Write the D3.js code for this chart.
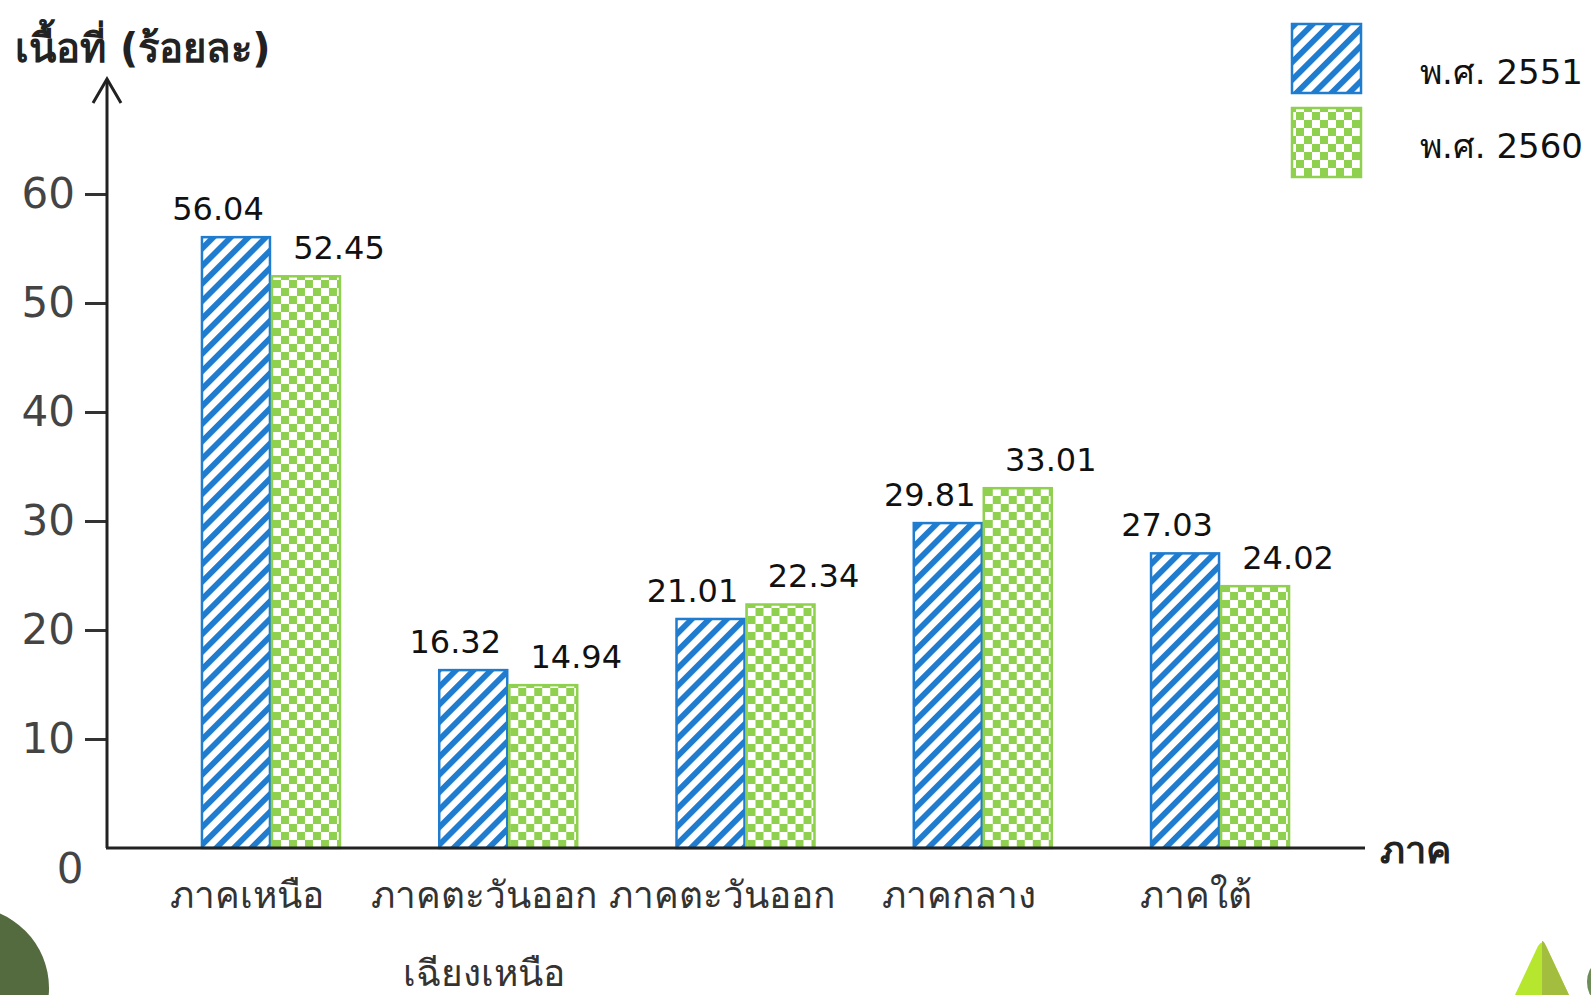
<!DOCTYPE html>
<html>
<head>
<meta charset="utf-8">
<script src="https://cdn.jsdelivr.net/npm/d3@7"></script>
<style>
  body { margin: 0; background: #fff; }
  svg { display: block; }
  text { font-family: "DejaVu Sans", "Noto Sans", sans-serif; }
</style>
</head>
<body>
<svg id="chart" width="1591" height="995"></svg>
<script>
// data
const categories = ["ภาคเหนือ", "ภาคตะวันออกเฉียงเหนือ", "ภาคตะวันออก", "ภาคกลาง", "ภาคใต้"];
const categoryLines = [["ภาคเหนือ"], ["ภาคตะวันออก", "เฉียงเหนือ"], ["ภาคตะวันออก"], ["ภาคกลาง"], ["ภาคใต้"]];
const series = ["พ.ศ. 2551", "พ.ศ. 2560"];
const values2551 = [56.04, 16.32, 21.01, 29.81, 27.03];
const values2560 = [52.45, 14.94, 22.34, 33.01, 24.02];
const yTicks = [10, 20, 30, 40, 50, 60];

const svg = d3.select("#chart");
const blue = "#1f7ccf", green = "#8fd04f";

// patterns
const defs = svg.append("defs");
const stripe = defs.append("pattern")
  .attr("id", "stripe")
  .attr("patternUnits", "userSpaceOnUse")
  .attr("width", 12.4).attr("height", 12.4)
  .attr("patternTransform", "rotate(45)");
stripe.append("rect").attr("width", 12.4).attr("height", 12.4).attr("fill", "#fff");
stripe.append("rect").attr("width", 5.8).attr("height", 12.4).attr("fill", blue);

const cell = 8;
const checker = defs.append("pattern")
  .attr("id", "checker")
  .attr("patternUnits", "userSpaceOnUse")
  .attr("width", cell * 2).attr("height", cell * 2);
checker.append("rect").attr("width", cell * 2).attr("height", cell * 2).attr("fill", "#fff");
checker.append("rect").attr("width", cell).attr("height", cell).attr("fill", green);
checker.append("rect").attr("x", cell).attr("y", cell).attr("width", cell).attr("height", cell).attr("fill", green);

const fills = ["url(#stripe)", "url(#checker)"];
const strokes = [blue, green];

// scales
const x0 = d3.scaleBand()
  .domain(categories)
  .range([107, 1384])
  .paddingInner(0.41)
  .paddingOuter(0.396);

const x1 = d3.scaleBand()
  .domain(series)
  .range([0, x0.bandwidth()]);

const y = d3.scaleLinear().domain([0, 60]).range([848, 194]);

// decorations
svg.append("circle").attr("cx", -32).attr("cy", 988).attr("r", 81).attr("fill", "#546b40");
svg.append("path").attr("d", "M1515,995 L1538,946 Q1542,939 1546,946 L1569,995 Z").attr("fill", "#b6e62e");
svg.append("path").attr("d", "M1542,941 Q1544,941 1546,946 L1569,995 L1542,995 Z").attr("fill", "#a3bd3f");
svg.append("ellipse").attr("cx", 1595).attr("cy", 982).attr("rx", 8).attr("ry", 16).attr("fill", "#6d8c57");

// bars
const rows = categories.map((c, i) => ({ cat: c, vals: [values2551[i], values2560[i]] }));

const groups = svg.selectAll(".group")
  .data(rows)
  .enter().append("g")
  .attr("class", "group")
  .attr("transform", d => `translate(${x0(d.cat)},0)`);

groups.selectAll("rect")
  .data(d => d.vals.map((v, j) => ({ s: series[j], v, j })))
  .enter().append("rect")
  .attr("x", d => x1(d.s) + 1)
  .attr("y", d => y(d.v))
  .attr("width", x1.bandwidth() - 2)
  .attr("height", d => y(0) - y(d.v))
  .attr("fill", d => fills[d.j])
  .attr("stroke", d => strokes[d.j])
  .attr("stroke-width", 2.5);

// value labels
const labelShift = [-18, 33];
groups.selectAll(".val")
  .data(d => d.vals.map((v, j) => ({ s: series[j], v, j })))
  .enter().append("text")
  .attr("class", "val")
  .attr("x", d => x1(d.s) + x1.bandwidth() / 2 + labelShift[d.j])
  .attr("y", d => y(d.v) - 17)
  .attr("text-anchor", "middle")
  .attr("font-size", 32)
  .attr("fill", "#111")
  .text(d => d.v.toFixed(2));

// y axis
const yAxis = d3.axisLeft(y).tickValues(yTicks).tickSize(22).tickPadding(10).tickFormat(d3.format("d"));
const yg = svg.append("g").attr("transform", "translate(107,0)").call(yAxis);
yg.select(".domain").remove();
yg.selectAll(".tick line").attr("stroke", "#333").attr("stroke-width", 3);
yg.selectAll(".tick text")
  .attr("font-family", "'Liberation Sans', sans-serif")
  .attr("font-size", 42)
  .attr("fill", "#444");

svg.append("text")
  .attr("x", 70).attr("y", 883)
  .attr("text-anchor", "middle")
  .attr("font-family", "'Liberation Sans', sans-serif")
  .attr("font-size", 42)
  .attr("fill", "#444")
  .text("0");

// axis lines
svg.append("line").attr("x1", 107).attr("y1", 848).attr("x2", 107).attr("y2", 79)
  .attr("stroke", "#222").attr("stroke-width", 3);
svg.append("path").attr("d", "M93,103 L107,79 L121,103")
  .attr("fill", "none").attr("stroke", "#222").attr("stroke-width", 3);
svg.append("line").attr("x1", 106).attr("y1", 848).attr("x2", 1365).attr("y2", 848)
  .attr("stroke", "#222").attr("stroke-width", 3);

// titles
svg.append("text").attr("x", 15).attr("y", 62)
  .attr("font-size", 40).attr("font-weight", "bold").attr("fill", "#222")
  .text("เนื้อที่ (ร้อยละ)");
svg.append("text").attr("x", 1380).attr("y", 863)
  .attr("font-size", 38).attr("font-weight", "bold").attr("fill", "#222")
  .text("ภาค");

// category labels
svg.selectAll(".cat")
  .data(rows)
  .enter().append("text")
  .attr("class", "cat")
  .attr("text-anchor", "middle")
  .attr("font-size", 37)
  .attr("fill", "#333")
  .attr("transform", d => `translate(${x0(d.cat) + x0.bandwidth() / 2 - 24},908)`)
  .selectAll("tspan")
  .data((d, i) => categoryLines[i])
  .enter().append("tspan")
  .attr("x", 0)
  .attr("dy", (d, k) => k === 0 ? 0 : 78)
  .text(d => d);

// legend
const legend = svg.append("g");
series.forEach((s, j) => {
  legend.append("rect")
    .attr("x", 1292).attr("y", 24 + j * 84)
    .attr("width", 69).attr("height", 69)
    .attr("fill", fills[j]).attr("stroke", strokes[j]).attr("stroke-width", 2.5);
  legend.append("text")
    .attr("x", 1420).attr("y", 84 + j * 74)
    .attr("font-size", 34).attr("fill", "#111")
    .text(s);
});
</script>
</body>
</html>
